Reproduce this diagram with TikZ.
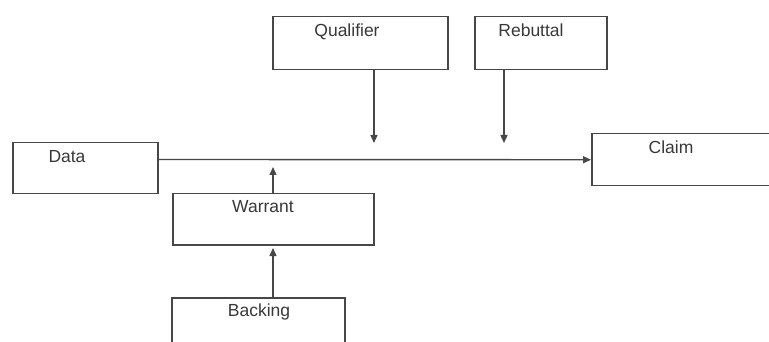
\documentclass[tikz,border=0pt]{standalone}
\usepackage{fontspec}
\setmainfont{Liberation Sans}
\usetikzlibrary{arrows.meta,calc}
\begin{document}
\begin{tikzpicture}[x=1pt,y=-1pt,
  box/.style={draw=black!72,line width=1.5pt,inner sep=0pt,anchor=north west},
  lbl/.style={anchor=base,inner sep=0pt,text=black!78,font=\fontsize{17.5}{20}\selectfont},
  conn/.style={draw=black!72,line width=1.4pt},
  arr/.style={conn,-{Triangle[length=8pt,width=7pt]}}]
\useasboundingbox (0,0) rectangle (769,342);
\clip (0,0) rectangle (769,342);
% boxes
\node[box,minimum width=145pt,minimum height=51pt] (Data) at (12,142) {};
\node[box,minimum width=201pt,minimum height=51pt] (Warrant) at (172,193) {};
\node[box,minimum width=175pt,minimum height=53pt] (Qualifier) at (272,16) {};
\node[box,minimum width=132pt,minimum height=53pt] (Rebuttal) at (474,16) {};
\node[box,minimum width=220pt,minimum height=52pt] (Claim) at (591,133) {};
\node[box,minimum width=173pt,minimum height=70pt] (Backing) at (171,297) {};
% labels
\node[lbl] (tData) at (67,163) {Data};
\node[lbl] (tWarrant) at (263,213) {Warrant};
\node[lbl] (tQualifier) at (347,37) {Qualifier};
\node[lbl] (tRebuttal) at (531,37) {Rebuttal};
\node[lbl] (tClaim) at (671,154) {Claim};
\node[lbl] (tBacking) at (259,316) {Backing};
% connector end points
\coordinate (q) at (374,143);
\coordinate (r) at (504,143);
\coordinate (w) at (273,167);
\coordinate (b) at (273,248);
% connectors
\draw[arr] ($(Data.north east)!0.333!(Data.south east)$) -- ($(Claim.north west)!0.5!(Claim.south west)$);
\draw[arr] (Qualifier.south -| q) -- (q);
\draw[arr] (Rebuttal.south -| r) -- (r);
\draw[arr] (Warrant.north -| w) -- (w);
\draw[arr] (Backing.north -| b) -- (b);
\end{tikzpicture}
\end{document}
